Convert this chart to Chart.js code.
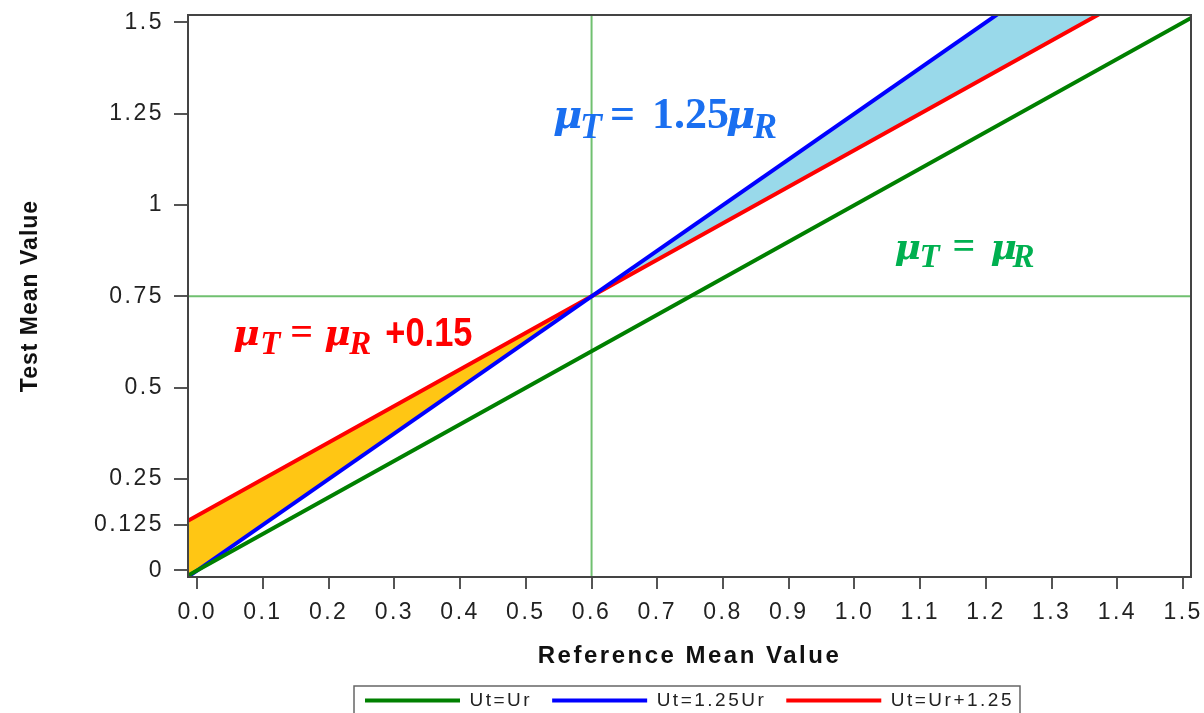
<!DOCTYPE html>
<html>
<head>
<meta charset="utf-8">
<script src="https://cdn.jsdelivr.net/npm/chart.js@4.4.1/dist/chart.umd.min.js"></script>
<style>
html, body { margin: 0; padding: 0; background: #fff; overflow: hidden; }
#wrap { width: 1204px; height: 720px; position: relative; }
</style>
</head>
<body>
<div id="wrap"><canvas id="myChart"></canvas></div>
<script>
// y value of each line at the x positions in lineX
var lineX = [-0.05, 0.6, 1.6];
var utUr = [-0.05, 0.6, 1.6];
var ut125 = [-0.0625, 0.75, 2.0];
var utPlus = [0.1, 0.75, 1.75];
var legendNames = ['Ut=Ur', 'Ut=1.25Ur', 'Ut=Ur+1.25'];
var lineColors = ['#008000', '#0000ff', '#ff0000'];
var xTicks = [0, 0.1, 0.2, 0.3, 0.4, 0.5, 0.6, 0.7, 0.8, 0.9, 1.0, 1.1, 1.2, 1.3, 1.4, 1.5];
var yTicks = [0, 0.125, 0.25, 0.5, 0.75, 1, 1.25, 1.5];
var refX = 0.6;
var refY = 0.75;
var xRange = [-0.014, 1.512];
var yRange = [-0.018, 1.52];
var yTitle = 'Test Mean Value';

var SPACING = '2.5px';

function pts(ys) {
    return lineX.map(function (x, i) { return { x: x, y: ys[i] }; });
}

// formula labels: anchor in data units, parts = [text, kind, dx, dy]
var notes = [
    { x: 0.5415, y: 1.211, color: '#1a6ff0', size: 44,
      parts: [['μ', 'm', 0, 0], ['T', 's', 27, 10], ['=', 'r', 57, 0], ['1.25', 'r', 99, 0], ['μ', 'm', 173, 0], ['R', 's', 200, 10]] },
    { x: 0.055, y: 0.617, color: '#ff0000', size: 40,
      parts: [['μ', 'm', 0, 0], ['T', 's', 27, 9], ['=', 'r', 57, 0], ['μ', 'm', 91, 0], ['R', 's', 116, 9], ['+0.15', 'n', 152, 1]] },
    { x: 1.061, y: 0.852, color: '#00b050', size: 40,
      parts: [['μ', 'm', 0, 0], ['T', 's', 25, 8], ['=', 'r', 58, 0], ['μ', 'm', 96, 0], ['R', 's', 118, 8]] }
];

function noteFont(kind, size) {
    if (kind === 'm') return 'italic bold ' + Math.round(size * 0.9) + 'px "DejaVu Serif"';
    if (kind === 's') return 'italic bold ' + Math.round(size * 0.82) + 'px "Liberation Serif"';
    if (kind === 'n') return 'bold ' + size + 'px "Liberation Sans"';
    return 'bold ' + size + 'px "Liberation Serif"';
}

var decor = {
    id: 'decor',
    beforeLayout: function (chart) { chart.ctx.letterSpacing = SPACING; },
    beforeDraw: function (chart) { chart.ctx.letterSpacing = SPACING; },
    afterDatasetsDraw: function (chart) {
        var c = chart.ctx, a = chart.chartArea;
        c.save();
        c.strokeStyle = '#444';
        c.lineWidth = 2;
        c.strokeRect(a.left, a.top, a.right - a.left, a.bottom - a.top);
        c.letterSpacing = '0px';
        c.textBaseline = 'alphabetic';
        c.textAlign = 'left';
        notes.forEach(function (n) {
            var px = chart.scales.x.getPixelForValue(n.x);
            var py = chart.scales.y.getPixelForValue(n.y);
            c.fillStyle = n.color;
            n.parts.forEach(function (p) {
                c.font = noteFont(p[1], n.size);
                if (p[1] === 'n') {
                    // narrow sans for the constant
                    c.save();
                    c.translate(px + p[2], py + p[3]);
                    c.scale(0.86, 1);
                    c.fillText(p[0], 0, 0);
                    c.restore();
                } else {
                    c.fillText(p[0], px + p[2], py + p[3]);
                }
            });
        });
        c.restore();
    },
    afterDraw: function (chart) {
        var c = chart.ctx, a = chart.chartArea;
        // y axis title
        c.save();
        c.letterSpacing = '1px';
        c.translate(31, (a.top + a.bottom) / 2);
        c.rotate(-Math.PI / 2);
        c.fillStyle = '#111';
        c.font = 'bold 23px "Liberation Sans", Arial';
        c.textAlign = 'center';
        c.textBaseline = 'middle';
        c.fillText(yTitle, 0, 0);
        c.restore();

        // frame round the legend
        var hb = chart.legend.legendHitBoxes;
        if (!hb || !hb.length) return;
        var last = hb[hb.length - 1];
        var l = hb[0].left - 11, r = last.left + last.width + 6;
        var t = hb[0].top - 5;
        c.save();
        c.strokeStyle = '#666';
        c.lineWidth = 1.5;
        c.strokeRect(l, t, r - l, 60);
        c.restore();
    }
};

const ctx = document.getElementById('myChart').getContext('2d');
const myChart = new Chart(ctx, {
    type: 'line',
    data: {
        datasets: [
            {
                label: legendNames[0],
                data: pts(utUr),
                borderColor: lineColors[0],
                borderWidth: 4,
                pointRadius: 0,
                clip: 0,
                fill: false
            },
            {
                label: legendNames[1],
                data: pts(ut125),
                borderColor: lineColors[1],
                borderWidth: 4,
                pointRadius: 0,
                clip: 0,
                fill: false
            },
            {
                label: legendNames[2],
                data: pts(utPlus),
                borderColor: lineColors[2],
                borderWidth: 4,
                pointRadius: 0,
                clip: 0,
                fill: { target: 1, above: '#ffc614', below: '#99d9ea' }
            },
            {
                label: 'hline',
                data: [{ x: xRange[0] - 0.1, y: refY }, { x: xRange[1] + 0.1, y: refY }],
                borderColor: '#70c070',
                borderWidth: 2,
                pointRadius: 0,
                clip: 0,
                fill: false
            },
            {
                label: 'vline',
                data: [{ x: refX, y: yRange[0] - 0.1 }, { x: refX, y: yRange[1] + 0.1 }],
                borderColor: '#70c070',
                borderWidth: 2,
                pointRadius: 0,
                clip: 0,
                fill: false
            }
        ]
    },
    options: {
        responsive: true,
        maintainAspectRatio: false,
        animation: false,
        layout: { padding: { top: 15, right: 13, left: 0, bottom: 0 } },
        plugins: {
            tooltip: { enabled: false },
            filler: { drawTime: 'beforeDatasetsDraw' },
            legend: {
                position: 'bottom',
                fullSize: false,
                labels: {
                    color: '#222',
                    font: { family: '"Liberation Sans", Arial', size: 19 },
                    boxWidth: 95,
                    boxHeight: 4,
                    padding: 20,
                    generateLabels: function (chart) {
                        return legendNames.map(function (name, i) {
                            return { text: name, fillStyle: lineColors[i], strokeStyle: lineColors[i], lineWidth: 0, datasetIndex: i, fontColor: '#222' };
                        });
                    }
                }
            }
        },
        scales: {
            x: {
                type: 'linear',
                min: xRange[0],
                max: xRange[1],
                afterBuildTicks: function (s) { s.ticks = xTicks.map(function (v) { return { value: v }; }); },
                afterFit: function (s) { s.height = 94; s.paddingLeft = 0; s.paddingRight = 0; },
                ticks: {
                    autoSkip: false,
                    maxRotation: 0,
                    padding: 10,
                    color: '#222',
                    font: { family: '"Liberation Sans", Arial', size: 23 },
                    callback: function (v) { return Number(v).toFixed(1); }
                },
                grid: { drawOnChartArea: false, drawTicks: true, tickLength: 12, color: '#555', lineWidth: 2 },
                border: { display: true, color: '#444', width: 2 },
                title: {
                    display: true,
                    text: 'Reference Mean Value',
                    color: '#111',
                    font: { family: '"Liberation Sans", Arial', size: 24, weight: 'bold' },
                    padding: { top: 4, bottom: 0 }
                }
            },
            y: {
                type: 'linear',
                min: yRange[0],
                max: yRange[1],
                afterBuildTicks: function (s) { s.ticks = yTicks.map(function (v) { return { value: v }; }); },
                afterFit: function (s) { s.width = 188; s.paddingTop = 0; s.paddingBottom = 0; },
                ticks: {
                    padding: 10,
                    color: '#222',
                    font: { family: '"Liberation Sans", Arial', size: 23 },
                    callback: function (v) { return String(v); }
                },
                grid: { drawOnChartArea: false, drawTicks: true, tickLength: 14, color: '#555', lineWidth: 2 },
                border: { display: true, color: '#444', width: 2 },
                title: { display: false }
            }
        }
    },
    plugins: [decor]
});
</script>
</body>
</html>
